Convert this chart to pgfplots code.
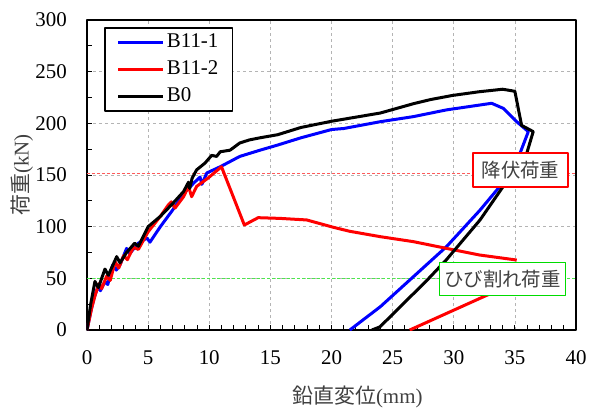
\documentclass[border=0pt]{standalone}
\usepackage{fontspec}
\setmainfont{Liberation Serif}
\newfontfamily\cjk{Noto Sans CJK JP}
\usepackage{pgfplots}
\pgfplotsset{compat=1.18}

\definecolor{txtgray}{RGB}{64,64,64}
\definecolor{gridgray}{RGB}{180,180,180}
\definecolor{crackgreen}{RGB}{0,220,0}
\definecolor{yieldred}{RGB}{255,90,90}

\begin{document}
\begin{tikzpicture}
\begin{axis}[
  name=ax,
  scale only axis,
  width=489bp, height=310bp,
  xmin=0, xmax=40, ymin=0, ymax=300,
  xtick={0,5,...,40}, ytick={0,50,...,300},
  minor x tick num=4, minor y tick num=1,
  tick align=inside,
  xtick pos=left, ytick pos=left,
  major tick length=5bp, minor tick length=5bp,
  every tick/.style={black, line width=1bp},
  axis line style={line width=1.5bp},
  grid=major,
  major grid style={gridgray, line width=0.75bp, dash pattern=on 3bp off 3bp},
  font=\fontsize{21}{25}\selectfont,
  /pgf/number format/assume math mode=true,
  xticklabel style={anchor=base, inner sep=0pt, yshift=-34.5bp},
  yticklabel style={anchor=east, inner sep=0pt, xshift=-20bp},
  xlabel={{\cjk 鉛直変位}(mm)},
  ylabel={{\cjk 荷重}(kN)},
  label style={text=txtgray},
  xlabel style={at={(axis description cs:0.553,-0.216)}, anchor=center},
  ylabel style={at={(axis description cs:-0.133,0.5)}, anchor=center},
  legend cell align=left,
  legend style={at={(axis description cs:0.035,0.977)}, anchor=north west,
    draw=black, line width=1.5bp, fill=white,
    inner xsep=12bp, inner ysep=1bp,
    row sep=0pt, column sep=0pt,
    font=\fontsize{21}{25}\selectfont,
    nodes={inner xsep=2bp, inner ysep=3.5bp, text height=15bp, text depth=5bp}},
  legend image code/.code={\draw[#1, line width=3bp] (0bp,0bp) -- (45bp,0bp);},
  line join=round,
]
% reference load levels
\addplot[yieldred, line width=0.75bp, dash pattern=on 3bp off 2bp, forget plot] coordinates {(0,152) (40,152)};
\addplot[crackgreen!70, line width=0.75bp, dash pattern=on 3bp off 2bp, forget plot] coordinates {(0,50) (40,50)};

% B11-1
\addplot[blue, line width=3bp] coordinates {
(0,0) (0.35,20) (0.6,32) (0.9,42) (1.1,38) (1.47,47) (1.7,44) (2.1,63) (2.4,58)
(2.7,63) (3.24,79) (3.5,74) (4.2,84) (4.9,89) (5.15,85) (6.0,100) (7,116)
(7.9,132) (8.8,143) (9.25,148) (9.4,141) (9.8,152) (10.9,158) (11.7,163)
(12.5,168) (14.15,174) (15.6,179) (17.5,186) (20,194) (21,195) (24,201.6)
(26.7,206.5) (29.4,213) (33.1,219.4) (34.05,214.5) (35.15,201.6) (36.1,192)
(34.9,155) (32.15,116) (29.4,80.6) (26.7,51.6) (24,22.6) (21.5,0)
};
\addlegendentry{B11-1}

% B11-2
\addplot[red, line width=3bp] coordinates {
(0,0) (0.4,22) (0.7,35) (1.0,45) (1.2,40) (1.6,52) (1.9,48) (2.3,66) (2.6,60)
(3.0,72) (3.3,68) (3.8,80) (4.2,78) (5,95) (6,110) (6.65,121) (6.9,124)
(7.2,118) (7.9,129) (8.3,139) (8.56,129) (8.97,139) (9.9,147) (10.5,153)
(11.0,158) (12.87,101.6) (14.0,108.7) (15.8,108) (17.97,106.5) (20.15,99.4)
(21.5,95.5) (24,90.3) (26.7,85.5) (29.4,79) (32.1,72.6) (35.15,67.7)
};
\addlegendentry{B11-2}
\addplot[red, line width=3bp, forget plot] coordinates {
(26.4,0) (32.4,32) (34.5,43)
};

% B0
\addplot[black, line width=3bp] coordinates {
(0,0) (0.3,25) (0.65,47) (0.93,41) (1.47,59) (1.74,53) (2.43,71) (2.7,65)
(3.24,75) (3.9,84) (4.2,81) (5.0,100) (6.0,110) (7.06,123) (7.9,134) (8.3,143)
(8.4,137) (8.6,147) (8.97,155) (9.65,161.5) (10.2,169) (10.6,168) (10.9,172.5)
(11.7,174) (12.5,181) (13.3,184) (14.15,186) (15.6,189) (17.5,196) (20,202)
(22,206) (24,210) (26.7,219) (28.1,223) (29.9,227) (32.1,230.6) (34.0,233)
(35.0,231) (35.55,198) (36.5,192) (35.97,171) (34.05,139) (32.15,106.5)
(29.4,68) (27.8,48) (23.96,3) (23.3,0)
};
\addlegendentry{B0}

% load level labels
\node[draw=red, line width=1.5bp, fill=white, text=txtgray, inner sep=0pt,
  minimum width=95bp, minimum height=34bp, font=\cjk\fontsize{19.5}{22}\selectfont]
  at (axis cs:35.46,154.8) {降伏荷重};
\node[draw=crackgreen, line width=1.5bp, fill=white, text=txtgray, inner sep=0pt,
  minimum width=126bp, minimum height=33bp, font=\cjk\fontsize{19.5}{22}\selectfont]
  at (axis cs:33.99,49.4) {ひび割れ荷重};
\end{axis}
\pgfresetboundingbox
\path (ax.south west) ++(-87bp,-78bp) rectangle ++(589bp,408bp);
\end{tikzpicture}
\end{document}
